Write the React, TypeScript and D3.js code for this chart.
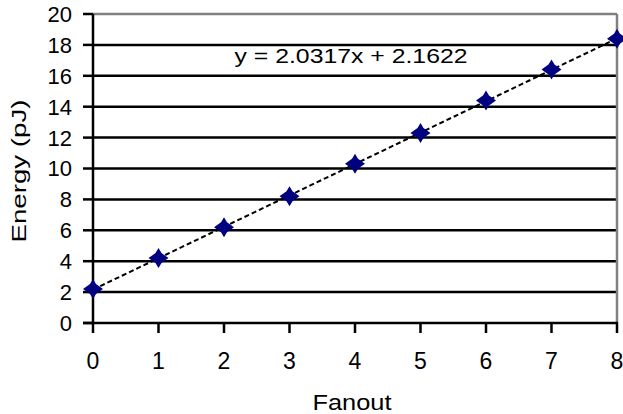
import React from 'react'
import * as d3 from 'd3'

const fanout = [0, 1, 2, 3, 4, 5, 6, 7, 8];
const energy = [2.2, 4.2, 6.2, 8.2, 10.3, 12.3, 14.4, 16.4, 18.4];
const yTicks = [0, 2, 4, 6, 8, 10, 12, 14, 16, 18, 20];
const slope = 2.0317;
const intercept = 2.1622;
const equation = 'y = 2.0317x + 2.1622';

const width = 623;
const height = 414;
const plot = { left: 93, right: 617, top: 14, bottom: 323 };
const font = '"Liberation Sans", Arial, sans-serif';

const xScale = d3.scaleLinear().domain([0, 8]).range([plot.left, plot.right]);
const yScale = d3.scaleLinear().domain([0, 20]).range([plot.bottom, plot.top]);

const trend = d3.line<number>()
  .x(d => xScale(d))
  .y(d => yScale(slope * d + intercept));

// little diamond with spiky points, like the Excel marker
const marker = (cx: number, cy: number) =>
  `M${cx},${cy - 10} L${cx + 3},${cy - 5} L${cx + 10},${cy} L${cx + 3},${cy + 5} L${cx},${cy + 10}` +
  ` L${cx - 3},${cy + 5} L${cx - 10},${cy} L${cx - 3},${cy - 5} Z`;

const App = () => (
  <svg width={width} height={height} style={{ position: 'absolute', left: 0, top: 0, background: '#fff' }}>
    <rect width={width} height={height} fill='#fff' />

    {yTicks.filter(t => t > 0 && t < 20).map(t => (
      <line key={t} x1={plot.left} x2={plot.right} y1={yScale(t)} y2={yScale(t)} stroke='#000' strokeWidth={2.5} />
    ))}

    <line x1={plot.left} x2={plot.right} y1={plot.top} y2={plot.top} stroke='#808080' strokeWidth={2.5} />
    <line x1={plot.right} x2={plot.right} y1={plot.top} y2={plot.bottom} stroke='#808080' strokeWidth={2.5} />

    <line x1={plot.left} x2={plot.left} y1={plot.top} y2={plot.bottom + 1} stroke='#000' strokeWidth={2.5} />
    <line x1={plot.left - 10} x2={plot.right + 1} y1={plot.bottom} y2={plot.bottom} stroke='#000' strokeWidth={2.5} />

    {yTicks.map(t => (
      <g key={t}>
        <line x1={plot.left - 10} x2={plot.left} y1={yScale(t)} y2={yScale(t)} stroke='#000' strokeWidth={2.5} />
        <text x={72} y={yScale(t)} dy='0.36em' textAnchor='end' fontFamily={font} fontSize={22}>{t}</text>
      </g>
    ))}

    {fanout.map(f => (
      <g key={f}>
        <line x1={xScale(f)} x2={xScale(f)} y1={plot.bottom} y2={plot.bottom + 10} stroke='#000' strokeWidth={2.5} />
        <text x={xScale(f)} y={369} textAnchor='middle' fontFamily={font} fontSize={23}>{f}</text>
      </g>
    ))}

    <path d={trend([0, 8]) ?? ''} fill='none' stroke='#000' strokeWidth={2} strokeDasharray='5,3' />

    {fanout.map((f, i) => (
      <path key={f} d={marker(xScale(f), yScale(energy[i]))} fill='#000080' />
    ))}

    <text x={351} y={63} textAnchor='middle' fontFamily={font} fontSize={21}
      textLength={233} lengthAdjust='spacingAndGlyphs'>{equation}</text>

    <text x={352} y={410} textAnchor='middle' fontFamily={font} fontSize={22}
      textLength={79} lengthAdjust='spacingAndGlyphs'>Fanout</text>

    <text transform='translate(26,171) rotate(-90)' textAnchor='middle' fontFamily={font} fontSize={20}
      textLength={143} lengthAdjust='spacingAndGlyphs'>Energy (pJ)</text>
  </svg>
);

export default App
